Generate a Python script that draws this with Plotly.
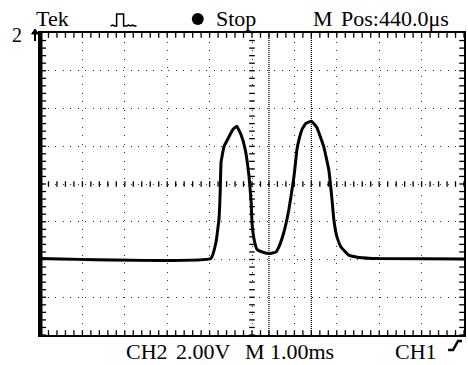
import numpy as np
import plotly.graph_objects as go

time_ms = [0.0, 4.03, 4.15, 4.22, 4.25, 4.27, 4.34, 4.46, 4.55, 4.64, 4.74, 4.84, 4.93,
           4.98, 5.00, 5.05, 5.12, 5.28, 5.40, 5.56, 5.64, 5.75, 5.87, 5.99, 6.06, 6.11,
           6.18, 6.27, 6.40, 6.53, 6.69, 6.81, 6.88, 6.93, 7.00, 7.09, 7.28, 7.52, 7.99, 10.0]
volts = [-3.95, -3.95, -3.10, -1.88, -0.45, 1.14, 1.99, 2.52, 2.89, 3.06, 2.62, 1.83, 0.40,
         -0.98, -2.04, -2.94, -3.47, -3.63, -3.68, -3.61, -3.30, -2.57, -1.35, 0.40, 1.83, 2.36,
         2.89, 3.21, 3.33, 2.99, 1.99, 0.77, -0.66, -1.88, -2.78, -3.31, -3.77, -3.89, -3.95, -3.97]
cursor_times = [5.4, 6.4]

top_labels = ["Tek", "Stop", "M", "Pos:440.0μs"]
bottom_labels = ["CH2", "2.00V", "M", "1.00ms", "CH1"]

# ---- layout geometry (pixels) ----
W, H = 468, 365
L, R, T, B = 40, 2, 33, 30
PW, PH = W - L - R, H - T - B
XR, YR = (0, 10), (-8, 8)

def px(x):
    return (x - L) / PW

def py(y):
    return (H - B - y) / PH

def path(points):
    s = "M{},{}".format(px(points[0][0]), py(points[0][1]))
    for x, y in points[1:]:
        s += " L{},{}".format(px(x), py(y))
    return s

FONT = "Liberation Serif"
TICK = 4  # px
dx_tick = (XR[1] - XR[0]) / PW * TICK / 2
dy_tick = (YR[1] - YR[0]) / PH * TICK / 2

fig = go.Figure()

def tick_marks(xs, ys, symbol):
    fig.add_trace(go.Scatter(x=xs, y=ys, mode="markers", cliponaxis=False,
                             marker=dict(symbol=symbol, size=TICK, color="black",
                                         line=dict(width=1.3, color="black")),
                             hoverinfo="skip", showlegend=False))

xt = np.arange(0, 10.001, 0.2)
yt = np.arange(-8, 8.001, 0.4)
# centre-line minor ticks
tick_marks(xt, np.zeros(len(xt)), "line-ns-open")
tick_marks(np.full(len(yt), 5.0), yt, "line-ew-open")
# border ticks (pointing inward)
tick_marks(xt, np.full(len(xt), YR[1] - dy_tick), "line-ns-open")
tick_marks(xt, np.full(len(xt), YR[0] + dy_tick), "line-ns-open")
tick_marks(np.full(len(yt), XR[0] + dx_tick + 0.03), yt, "line-ew-open")
tick_marks(np.full(len(yt), XR[1] - dx_tick), yt, "line-ew-open")

# trace
fig.add_trace(go.Scatter(x=time_ms, y=volts, mode="lines",
                         line=dict(color="black", width=3, shape="spline", smoothing=0.3),
                         hoverinfo="skip", showlegend=False))

# cursors
for c in cursor_times:
    fig.add_shape(type="line", xref="x", yref="y", x0=c, x1=c, y0=-8, y1=8,
                  line=dict(color="black", width=1.3, dash="1px,1px"))

# thick left border
fig.add_shape(type="line", xref="paper", yref="paper", x0=px(41), x1=px(41), y0=0, y1=1,
              line=dict(color="black", width=3))

# top icons
fig.add_shape(type="path", xref="paper", yref="paper",
              path=path([(111, 26), (113, 25), (115, 26), (117, 26), (117, 14), (124, 14),
                         (124, 26), (127, 26), (129, 25), (131, 26), (133, 25), (135, 26), (137, 26)]),
              line=dict(color="black", width=1.5))
fig.add_shape(type="circle", xref="paper", yref="paper",
              x0=px(192.5), x1=px(204.5), y0=py(25), y1=py(13),
              fillcolor="black", line=dict(color="black", width=0))
# ground marker arrow
fig.add_shape(type="path", xref="paper", yref="paper",
              path=path([(35, 41), (35, 30)]), line=dict(color="black", width=2))
fig.add_shape(type="path", xref="paper", yref="paper",
              path=path([(31.5, 34), (35, 29), (38.5, 34)]) + " Z",
              fillcolor="black", line=dict(color="black", width=1))
# trigger slope symbol
fig.add_shape(type="path", xref="paper", yref="paper",
              path=path([(450, 350), (455, 350), (460, 341), (464, 341)]),
              line=dict(color="black", width=2.5))

# text
def label(text, x, y, size=22, anchor="middle"):
    fig.add_annotation(text=text, xref="paper", yref="paper", x=px(x), y=py(y),
                       xanchor="left", yanchor=anchor, showarrow=False, borderpad=0,
                       font=dict(family=FONT, size=size, color="black"))

label(top_labels[0], 35, 18)
label(top_labels[1], 216, 18)
label(top_labels[2], 313, 18)
label(top_labels[3], 341, 18)
label("2", 11, 35, size=20)
for text, x in zip(bottom_labels, [125, 176, 245, 270, 396]):
    label(text, x, 365, anchor="bottom")

axis_common = dict(showticklabels=False, ticks="",
                   showline=True, linecolor="black", linewidth=2, mirror=True,
                   zeroline=False, showgrid=True, gridcolor="#333333", gridwidth=1)

fig.update_layout(
    width=W, height=H, margin=dict(l=L, r=R, t=T, b=B),
    paper_bgcolor="white", plot_bgcolor="white",
    xaxis=dict(range=list(XR), dtick=1, tick0=0, griddash="1px,7.52px", **axis_common),
    yaxis=dict(range=list(YR), dtick=2, tick0=0, griddash="1px,6.55px", **axis_common),
)

fig.write_html("out.html", config={"displayModeBar": False},
               post_script="document.body.style.margin='0px';")
